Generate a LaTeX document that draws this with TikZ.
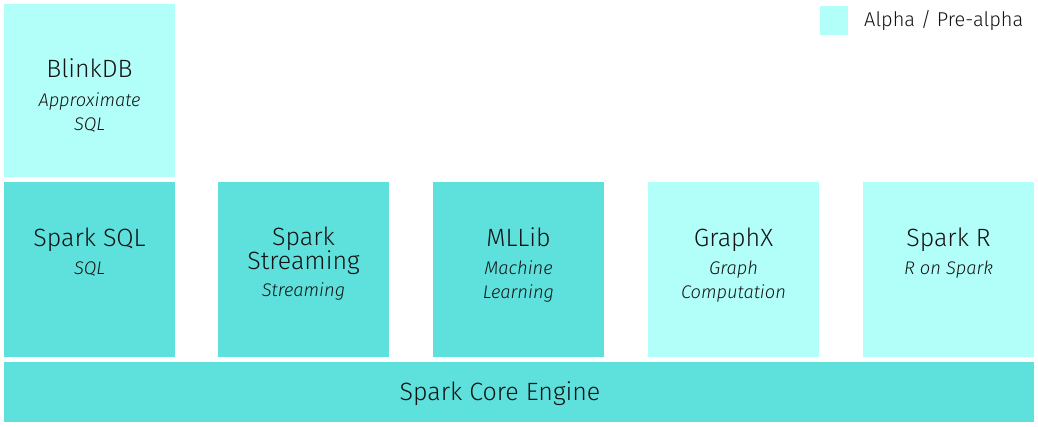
\documentclass[tikz,border=0pt]{standalone}
\usepackage{fontspec}
\setmainfont{Fira Sans}[UprightFont={* Light}, ItalicFont={* Light Italic}]
\definecolor{darkc}{RGB}{94,224,220}
\definecolor{lightc}{RGB}{177,255,248}
\definecolor{txt}{RGB}{20,20,20}
\tikzset{
  box/.style={rectangle, inner sep=0pt, anchor=north west, minimum width=171pt, minimum height=175pt},
  title/.style={anchor=base, inner sep=0pt, text=txt, font=\fontsize{25}{24}\selectfont, align=center},
  sub/.style={anchor=base, inner sep=0pt, text=txt, font=\fontsize{18.3}{24}\selectfont\itshape, align=center},
}
\begin{document}
\begin{tikzpicture}[x=1pt,y=-1pt]
\useasboundingbox (0,0) rectangle (1038,426);
% legend
\node[rectangle, inner sep=0pt, anchor=north west, minimum width=28pt, minimum height=29pt, fill=lightc] (leg) at (820,6) {};
\node[anchor=base west, inner sep=0pt, text=txt, font=\fontsize{20}{20}\selectfont] (legt) at (864,26.5) {Alpha / Pre-alpha};
% BlinkDB
\node[box, minimum height=173pt, fill=lightc] (blink) at (4,4) {};
\node[title] (blinkT) at (89.5,77.7) {BlinkDB};
\node[sub] (blinkS) at (89.5,130.7) {Approximate\\SQL};
% row
\node[box, fill=darkc] (sql) at (4,182) {};
\node[box, fill=darkc] (stream) at (218,182) {};
\node[box, fill=darkc] (ml) at (433,182) {};
\node[box, fill=lightc] (graphx) at (648,182) {};
\node[box, fill=lightc] (sparkr) at (863,182) {};
\node[title] (sqlT) at (89.5,246) {Spark SQL};
\node[sub] (sqlS) at (89.5,274.3) {SQL};
\node[title] (streamT) at (303.5,269.3) {Spark\\Streaming};
\node[sub] (streamS) at (303.5,296) {Streaming};
\node[title] (mlT) at (518.5,246) {MLLib};
\node[sub] (mlS) at (518.5,298) {Machine\\Learning};
\node[title] (gxT) at (733.5,246) {GraphX};
\node[sub] (gxS) at (733.5,298) {Graph\\Computation};
\node[title] (srT) at (948.5,246) {Spark R};
\node[sub] (srS) at (948.5,274.3) {R on Spark};
% core
\node[rectangle, inner sep=0pt, anchor=north west, minimum width=1030pt, minimum height=60pt, fill=darkc] (core) at (4,362) {};
\node[title] (coreT) at (500,400) {Spark Core Engine};
\end{tikzpicture}
\end{document}
